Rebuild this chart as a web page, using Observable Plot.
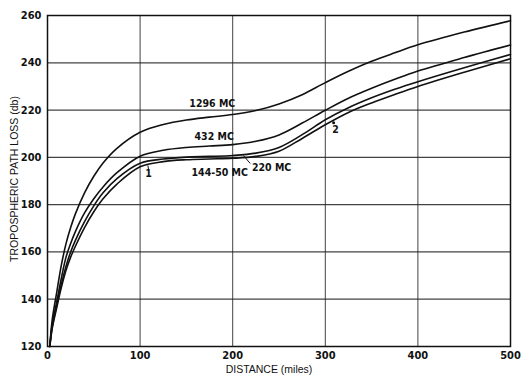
<!DOCTYPE html>
<html>
<head>
<meta charset="utf-8">
<script src="https://cdn.jsdelivr.net/npm/d3@7"></script>
<script src="https://cdn.jsdelivr.net/npm/@observablehq/plot@0.6"></script>
<style>
  html, body { margin: 0; padding: 0; background: #fff; }
</style>
</head>
<body>
<div id="chart"></div>
<script>
// Distance (miles) sample points
const distance = [2.5, 5, 10, 15, 20, 25, 30, 40, 50, 60, 75, 100, 125, 150, 175, 200, 225, 250, 275, 300, 325, 350, 375, 400, 450, 500];

// Tropospheric path loss (db) per frequency
const loss1296 = [120, 131, 143, 154.5, 163.5, 170.3, 176, 185, 192, 197.6, 203.8, 210.6, 213.9, 215.8, 217, 218.1, 219.8, 222.6, 226.5, 231.6, 236.4, 240.6, 244.2, 247.6, 253, 257.8];
const loss432  = [120, 129, 139, 149, 157.8, 163.6, 168.5, 176.5, 182.5, 187.5, 193.5, 200.5, 203, 204.2, 204.8, 205.4, 206.8, 209.5, 214.5, 219.9, 225, 229.2, 233, 236.5, 242.2, 247.5];
const loss220  = [120, 128, 137.5, 146.5, 154, 160, 164.8, 172.8, 179.5, 185, 191, 197.5, 199.3, 200.1, 200.4, 200.8, 201.8, 204.2, 209.6, 215.9, 221, 225.2, 228.8, 232, 237.9, 243.5];
const loss144  = [120, 127.5, 136.5, 145, 152.2, 157.8, 162.3, 170.3, 177, 182.5, 188.7, 196, 198.2, 199, 199.3, 199.6, 200.4, 202.6, 208, 213.8, 219, 223, 226.6, 230, 236, 241.7];

const seriesNames = ["1296 MC", "432 MC", "220 MC", "144-50 MC"];
const seriesValues = [loss1296, loss432, loss220, loss144];

// Tick values
const xTicks = [0, 100, 200, 300, 400, 500];
const yTicks = [120, 140, 160, 180, 200, 220, 240, 260];

// Axis titles
const xTitle = "DISTANCE (miles)";
const yTitle = "TROPOSPHERIC PATH LOSS (db)";

// Curve labels (data coordinates)
const labelText = ["1296 MC", "432 MC", "144-50 MC", "220 MC", "1", "2"];
const labelX    = [178, 180, 186, 242, 109, 311];
const labelY    = [222.7, 208.8, 193.4, 195.8, 193.0, 211.6];

// Leader lines (data coordinates)
const leaderX1 = [219, 109.3];
const leaderY1 = [197.4, 194.6];
const leaderX2 = [211.5, 108.4];
const leaderY2 = [200.8, 196.6];

// Marker point "2"
const markX = [309];
const markY = [214.6];

const rows = [];
seriesNames.forEach((name, i) => {
  distance.forEach((d, j) => rows.push({series: name, distance: d, loss: seriesValues[i][j]}));
});
const labels = labelText.map((t, i) => ({text: t, x: labelX[i], y: labelY[i]}));
const leaders = leaderX1.map((x, i) => ({x1: x, y1: leaderY1[i], x2: leaderX2[i], y2: leaderY2[i]}));
const marks = markX.map((x, i) => ({x, y: markY[i]}));

const narrow = "'Liberation Sans Narrow', 'DejaVu Sans Condensed', 'Liberation Sans', sans-serif";

const chart = Plot.plot({
  width: 529,
  height: 382,
  marginLeft: 47,
  marginRight: 19,
  marginTop: 15,
  marginBottom: 36,
  style: {fontFamily: narrow, fontSize: "11px", color: "#111", background: "#fff"},
  x: {domain: [0, 500]},
  y: {domain: [120, 260]},
  marks: [
    Plot.gridX(xTicks, {stroke: "#222", strokeOpacity: 0.85, strokeWidth: 1}),
    Plot.gridY(yTicks, {stroke: "#222", strokeOpacity: 0.85, strokeWidth: 1.2}),
    Plot.frame({stroke: "#111", strokeWidth: 1.5}),
    Plot.axisX(xTicks, {tickSize: 0, tickPadding: 5, fontWeight: "bold", label: null}),
    Plot.axisY(yTicks, {tickSize: 0, tickPadding: 6, fontWeight: "bold", label: null}),
    Plot.text([xTitle], {frameAnchor: "bottom", textAnchor: "middle", dy: 26, dx: -10, text: d => d, fontFamily: "'Liberation Sans', sans-serif", fontSize: 10.5, fill: "#111"}),
    Plot.text([yTitle], {frameAnchor: "left", textAnchor: "middle", dx: -33, dy: -2, rotate: -90, text: d => d, fontFamily: "'Liberation Sans', sans-serif", fontSize: 10.5, fill: "#111"}),
    Plot.line(rows, {x: "distance", y: "loss", z: "series", curve: "catmull-rom", stroke: "#111", strokeWidth: 1.6}),
    Plot.link(leaders, {x1: "x1", y1: "y1", x2: "x2", y2: "y2", stroke: "#111", strokeWidth: 1}),
    Plot.dot(marks, {x: "x", y: "y", r: 1.5, fill: "#111", stroke: null}),
    Plot.text(labels, {x: "x", y: "y", text: "text", fill: "#111", fontSize: 10.5, fontWeight: "bold"})
  ]
});
document.getElementById("chart").appendChild(chart);
</script>
</body>
</html>
